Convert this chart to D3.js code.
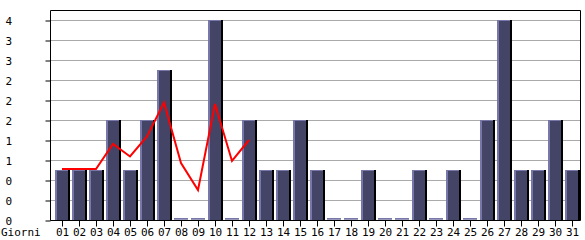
<!DOCTYPE html>
<html>

<head>
  <meta charset='utf-8'>
  <title>Giorni</title>
  <script type='text/javascript' src='https://cdn.jsdelivr.net/npm/d3@7'></script>
  <style>
    body { margin: 0; background: #fff; }
  </style>
</head>

<body>
  <script type='text/javascript'>
    // dati
    const giorni = ['01', '02', '03', '04', '05', '06', '07', '08', '09', '10', '11', '12', '13', '14', '15', '16',
      '17', '18', '19', '20', '21', '22', '23', '24', '25', '26', '27', '28', '29', '30', '31'];
    const visite = [1, 1, 1, 2, 1, 2, 3, 0, 0, 4, 0, 2, 1, 1, 2, 1, 0, 0, 1, 0, 0, 1, 0, 1, 0, 2, 4, 1, 1, 2, 1];
    const media = [1.02, 1.02, 1.02, 1.52, 1.27, 1.67, 2.35, 1.14, 0.6, 2.32, 1.18, 1.6];
    const yTicks = [0, 0.4, 0.8, 1.2, 1.6, 2.0, 2.4, 2.8, 3.2, 3.6, 4.0];

    const width = 585;
    const height = 240;
    const margin = { top: 10, right: 5, bottom: 20, left: 50 };
    const font = 'DejaVu Sans Mono, monospace';

    const svg = d3.select('body').append('svg')
      .attr('width', width)
      .attr('height', height)
      .style('font-family', font)
      .style('font-size', '11px');

    const x = d3.scaleBand()
      .domain(giorni)
      .range([53.5, 53.5 + 17 * giorni.length]);

    const y = d3.scaleLinear()
      .domain([0, 4])
      .range([height - margin.bottom, 20]);

    // griglia
    svg.append('g')
      .selectAll('line')
      .data(yTicks)
      .join('line')
      .attr('x1', margin.left)
      .attr('x2', width - margin.right)
      .attr('y1', d => Math.round(y(d)) + 0.5)
      .attr('y2', d => Math.round(y(d)) + 0.5)
      .attr('stroke', '#aaaaaa');

    // asse y
    const yAxis = d3.axisLeft(y)
      .tickValues(yTicks)
      .tickSize(5)
      .tickFormat(d => Math.floor(d + 1e-9));

    svg.append('g')
      .attr('transform', `translate(${margin.left + 0.5},0.5)`)
      .call(yAxis)
      .call(g => g.select('.domain').remove())
      .call(g => g.selectAll('text')
        .attr('x', -margin.left + 5)
        .attr('text-anchor', 'start')
        .attr('fill', '#000')
        .style('font-family', font)
        .style('font-size', '11px'));

    // barre
    const cx = d => x(d) + x.bandwidth() / 2;
    const bars = svg.append('g')
      .selectAll('g')
      .data(giorni.map((g, i) => ({ g, v: visite[i] })))
      .join('g');

    bars.filter(d => d.v > 0).append('rect')
      .attr('x', d => cx(d.g) + 6)
      .attr('y', d => y(d.v))
      .attr('width', 2)
      .attr('height', d => y(0) - y(d.v))
      .attr('fill', '#000');

    bars.filter(d => d.v > 0).append('rect')
      .attr('x', d => cx(d.g) - 7)
      .attr('y', d => y(d.v))
      .attr('width', 13)
      .attr('height', d => y(0) - y(d.v))
      .attr('fill', '#444466');

    bars.filter(d => d.v > 0).append('rect')
      .attr('x', d => cx(d.g) - 7)
      .attr('y', d => y(d.v))
      .attr('width', 2)
      .attr('height', d => y(0) - y(d.v))
      .attr('fill', '#7777aa');

    bars.append('rect')
      .attr('x', d => cx(d.g) - 7)
      .attr('y', d => y(d.v) - (d.v > 0 ? 0 : 2))
      .attr('width', d => d.v > 0 ? 13 : 14)
      .attr('height', 1)
      .attr('fill', '#7777aa');

    bars.filter(d => d.v === 0).append('rect')
      .attr('x', d => cx(d.g) - 7)
      .attr('y', y(0) - 1)
      .attr('width', 14)
      .attr('height', 1)
      .attr('fill', '#9999bb');

    // linea media
    svg.append('path')
      .datum(media)
      .attr('fill', 'none')
      .attr('stroke', '#ff0000')
      .attr('stroke-width', 2)
      .attr('d', d3.line()
        .x((d, i) => cx(giorni[i]))
        .y(d => y(d)));

    // cornice
    svg.append('path')
      .attr('d', `M${margin.left + 0.5},${y(0) + 0.5}V${margin.top + 0.5}H${width - margin.right + 0.5}V${y(0) + 0.5}`)
      .attr('fill', 'none')
      .attr('stroke', '#000');

    // asse x
    const xAxis = d3.axisBottom(x)
      .tickSize(6)
      .tickSizeOuter(0)
      .tickPadding(2);

    svg.append('g')
      .attr('transform', `translate(0.5,${y(0) + 0.5})`)
      .call(xAxis)
      .call(g => g.select('.domain')
        .attr('d', `M${margin.left},0H${width - margin.right}`)
        .attr('stroke', '#000'))
      .call(g => g.selectAll('text')
        .attr('fill', '#000')
        .style('font-family', font)
        .style('font-size', '11px'));

    svg.append('text')
      .attr('x', 1)
      .attr('y', 236)
      .text('Giorni');
  </script>
</body>

</html>
